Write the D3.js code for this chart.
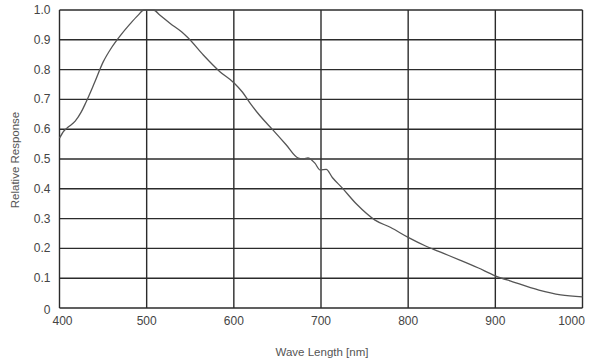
<!DOCTYPE html>
<html>
<head>
<meta charset="utf-8">
<script src="https://cdn.jsdelivr.net/npm/d3@7"></script>
<style>
  html, body { margin: 0; padding: 0; background: #fff; }
  text { font-family: "Liberation Sans", Arial, sans-serif; }
</style>
</head>
<body>
<svg id="chart" width="590" height="364"></svg>
<script>
const wavelengths = [400, 405, 410, 418, 425, 430, 440, 450, 460, 470, 480, 490, 497, 508, 515, 527, 540, 548, 565, 584, 600, 610, 618, 630, 645, 660, 674, 680, 685, 693, 699, 706, 713, 724, 741, 762, 780, 800, 820, 840, 860, 880, 900, 920, 950, 975, 1000];
const response = [0.57, 0.594, 0.607, 0.627, 0.658, 0.688, 0.755, 0.825, 0.875, 0.915, 0.95, 0.982, 1.0, 1.0, 0.983, 0.955, 0.927, 0.905, 0.849, 0.793, 0.756, 0.724, 0.69, 0.645, 0.597, 0.548, 0.503, 0.5, 0.504, 0.486, 0.463, 0.465, 0.438, 0.404, 0.348, 0.295, 0.27, 0.237, 0.208, 0.184, 0.16, 0.135, 0.108, 0.088, 0.06, 0.044, 0.037];
const xTicks = [400, 500, 600, 700, 800, 900, 1000];
const yTicks = [0, 0.1, 0.2, 0.3, 0.4, 0.5, 0.6, 0.7, 0.8, 0.9, 1.0];
const xTitle = "Wave Length [nm]";
const yTitle = "Relative Response";

const svg = d3.select("#chart");
const m = { left: 59.5, right: 582.5, top: 10, bottom: 308 };
const x = d3.scaleLinear().domain([400, 1000]).range([m.left, m.right]);
const y = d3.scaleLinear().domain([0, 1]).range([m.bottom, m.top]);

const gridColor = "#2b2b2b";

// grid
svg.append("g").selectAll("line.h").data(yTicks).join("line")
  .attr("x1", m.left).attr("x2", m.right)
  .attr("y1", d => y(d)).attr("y2", d => y(d))
  .attr("stroke", gridColor).attr("stroke-width", 1.4);
svg.append("g").selectAll("line.v").data(xTicks).join("line")
  .attr("y1", m.top).attr("y2", m.bottom)
  .attr("x1", d => x(d)).attr("x2", d => x(d))
  .attr("stroke", gridColor).attr("stroke-width", 1.4);

// y axis labels
svg.append("g").selectAll("text").data(yTicks).join("text")
  .attr("x", 50.5).attr("y", d => y(d) + (d === 0 ? 2 : 0))
  .attr("text-anchor", "end").attr("dominant-baseline", "central")
  .attr("font-size", 12).attr("fill", "#444")
  .text(d => d === 0 ? "0" : d3.format(".1f")(d));

// x axis labels
svg.append("g").selectAll("text").data(xTicks).join("text")
  .attr("x", d => x(d) + (d === 400 ? 3 : (d === 1000 ? -11 : 0)))
  .attr("y", 321)
  .attr("text-anchor", "middle").attr("dominant-baseline", "central")
  .attr("font-size", 12).attr("fill", "#444")
  .text(d => d);

// titles
svg.append("text").attr("x", 322).attr("y", 352)
  .attr("text-anchor", "middle").attr("dominant-baseline", "central")
  .attr("font-size", 11.5).attr("fill", "#555").text(xTitle);
svg.append("text")
  .attr("transform", "translate(15,160) rotate(-90)")
  .attr("text-anchor", "middle").attr("dominant-baseline", "central")
  .attr("font-size", 11.5).attr("fill", "#555").text(yTitle);

// curve
const pts = wavelengths.map((w, i) => [w, response[i]]);
svg.append("path").datum(pts)
  .attr("fill", "none").attr("stroke", "#555").attr("stroke-width", 1.3)
  .attr("d", d3.line().x(d => x(d[0])).y(d => y(d[1])).curve(d3.curveMonotoneX));
</script>
</body>
</html>
